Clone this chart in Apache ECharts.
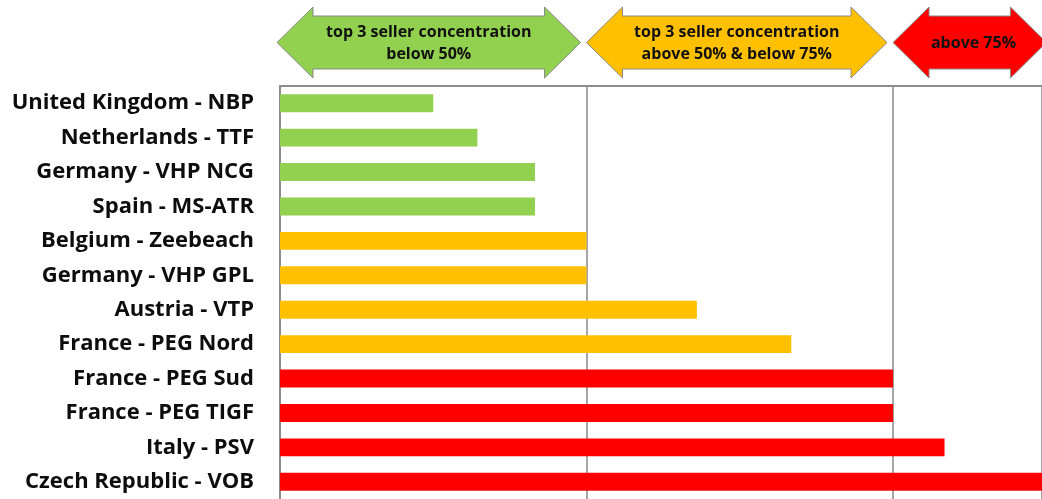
<!DOCTYPE html>
<html>
<head>
<meta charset="utf-8">
<script src="https://cdn.jsdelivr.net/npm/echarts@6/dist/echarts.min.js"></script>
<style>
  html, body { margin: 0; padding: 0; background: #fff; }
  #chart { width: 1042px; height: 499px; }
</style>
</head>
<body>
<div id="chart"></div>
<script>
// hubs, top to bottom
const hubs = [
  'United Kingdom - NBP', 'Netherlands - TTF', 'Germany - VHP NCG', 'Spain - MS-ATR',
  'Belgium - Zeebeach', 'Germany - VHP GPL', 'Austria - VTP', 'France - PEG Nord',
  'France - PEG Sud', 'France - PEG TIGF', 'Italy - PSV', 'Czech Republic - VOB'
]
// top 3 seller concentration, %
const concentration = [37.5, 41.1, 45.8, 45.8, 50, 50, 59, 66.7, 75, 75, 79.2, 100]

// zones shown as arrows above the plot
const zoneFrom = [25, 50, 75]
const zoneTo = [50, 75, 88]
const zoneText = ['top 3 seller concentration\nbelow 50%', 'top 3 seller concentration\nabove 50% & below 75%', 'above 75%']
const zoneColor = ['#92D050', '#FFC000', '#FF0000']

function colorFor(v) {
  if (v >= 75) return zoneColor[2]
  if (v >= 50) return zoneColor[1]
  return zoneColor[0]
}

const chart = echarts.init(document.getElementById('chart'))

chart.setOption({
  animation: false,
  grid: { left: 280, right: 0, top: 86, bottom: -1, containLabel: false },
  xAxis: {
    type: 'value',
    position: 'top',
    min: 25,
    max: 87.15,
    interval: 25,
    axisLine: { show: true, onZero: false, lineStyle: { color: '#8c8c8c', width: 2 } },
    axisTick: { show: false },
    axisLabel: { show: false },
    splitLine: { show: true, lineStyle: { color: '#a6a6a6', width: 2 } }
  },
  yAxis: {
    type: 'category',
    data: hubs,
    inverse: true,
    axisLine: { show: true, lineStyle: { color: '#8c8c8c', width: 2 } },
    axisTick: { show: false },
    axisLabel: {
      margin: 26,
      color: '#0d0d0d',
      fontFamily: 'Open Sans',
      fontWeight: 'bold',
      fontSize: 22
    }
  },
  series: [{
    type: 'bar',
    barCategoryGap: '48%',
    clip: true,
    data: concentration.map(v => ({ value: v, itemStyle: { color: colorFor(v) } }))
  }]
})

// double-headed arrows over the zones
function drawArrows() {
  const head = 36
  const yHeadTop = 7, yShaftTop = 16, yShaftBot = 69, yHeadBot = 78
  const cy = (yHeadTop + yHeadBot) / 2
  const els = []
  zoneFrom.forEach((from, i) => {
    const x0 = chart.convertToPixel({ xAxisIndex: 0 }, from) - (i === 0 ? 3 : 0)
    const x1 = chart.convertToPixel({ xAxisIndex: 0 }, zoneTo[i]) - 6
    els.push({
      type: 'polygon',
      shape: {
        points: [
          [x0, cy], [x0 + head, yHeadTop], [x0 + head, yShaftTop], [x1 - head, yShaftTop],
          [x1 - head, yHeadTop], [x1, cy], [x1 - head, yHeadBot], [x1 - head, yShaftBot],
          [x0 + head, yShaftBot], [x0 + head, yHeadBot]
        ]
      },
      style: { fill: zoneColor[i], stroke: '#8a8a8a', lineWidth: 1 },
      z: 10
    })
    const mid = i === 2 ? (x0 + 1042 + 12) / 2 : (x0 + x1) / 2
    els.push({
      type: 'text',
      x: mid,
      y: cy + 1,
      style: {
        text: zoneText[i],
        fill: '#111',
        font: 'bold 16px "Open Sans"',
        align: 'center',
        verticalAlign: 'middle',
        lineHeight: 22
      },
      z: 11
    })
  })
  chart.setOption({ graphic: els })
}
drawArrows()
</script>
</body>
</html>
